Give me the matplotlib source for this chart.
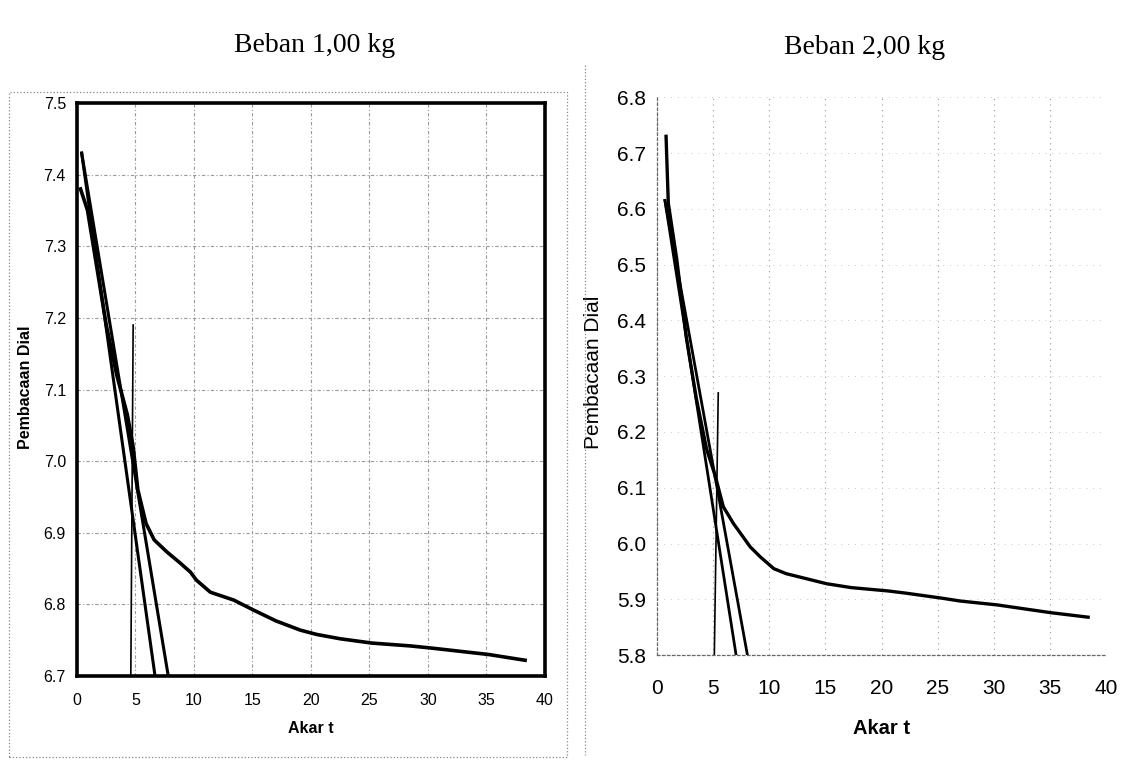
import matplotlib
matplotlib.use('Agg')
import matplotlib.pyplot as plt
from matplotlib.patches import Rectangle
from matplotlib.lines import Line2D

plt.rcParams['font.family'] = ['Liberation Sans', 'DejaVu Sans']

# Beban 1,00 kg
akar_t_1 = [0.3, 0.9, 1.7, 2.5, 3.4, 4.3, 4.8, 5.2, 5.9, 6.6, 7.7, 8.8, 9.7, 10.2, 11.4,
            13.4, 15.1, 17.0, 19.1, 20.5, 22.5, 25.2, 28.5, 30.3, 35.2, 38.3]
dial_1 = [7.38, 7.35, 7.27, 7.19, 7.12, 7.065, 7.02, 6.96, 6.913, 6.89, 6.873, 6.858, 6.845,
          6.834, 6.817, 6.806, 6.792, 6.777, 6.764, 6.758, 6.752, 6.746, 6.742, 6.739, 6.730, 6.722]
garis_a_x_1 = [0.4, 6.67]
garis_a_y_1 = [7.43, 6.70]
garis_b_x_1 = [0.4, 7.8]
garis_b_y_1 = [7.43, 6.70]
t90_x_1 = [4.6, 4.8]
t90_y_1 = [6.70, 7.19]

# Beban 2,00 kg
akar_t_2 = [0.8, 1.0, 1.75, 2.6, 3.5, 4.4, 5.2, 5.9, 6.8, 8.3, 9.2, 10.4, 11.5, 13.3, 15.1,
            17.3, 20.6, 22.2, 25.4, 27.0, 30.3, 35.1, 38.4]
dial_2 = [6.73, 6.61, 6.51, 6.37, 6.26, 6.17, 6.12, 6.066, 6.036, 5.994, 5.976, 5.955, 5.946,
          5.937, 5.928, 5.921, 5.915, 5.911, 5.902, 5.897, 5.890, 5.876, 5.868]
garis_a_x_2 = [0.7, 7.04]
garis_a_y_2 = [6.615, 5.80]
garis_b_x_2 = [0.7, 8.05]
garis_b_y_2 = [6.615, 5.80]
t90_x_2 = [5.1, 5.45]
t90_y_2 = [5.80, 6.27]

x_ticks = [0, 5, 10, 15, 20, 25, 30, 35, 40]
y_ticks_1 = [6.7, 6.8, 6.9, 7.0, 7.1, 7.2, 7.3, 7.4, 7.5]
y_ticks_2 = [5.8, 5.9, 6.0, 6.1, 6.2, 6.3, 6.4, 6.5, 6.6, 6.7, 6.8]

fig = plt.figure(figsize=(11.29, 7.6), dpi=100)

# chart area borders (dotted, like the scanned Excel frames)
fig.add_artist(Rectangle((9 / 1129, 1 - 757 / 760), 558 / 1129, 665 / 760,
                         transform=fig.transFigure, fill=False, ls=':', ec='#888888', lw=0.9))
fig.add_artist(Line2D([585 / 1129, 585 / 1129], [1 - 65 / 760, 1 - 755 / 760],
                      transform=fig.transFigure, ls=':', color='#888888', lw=0.9))

fig.text(0.279, 0.94, 'Beban 1,00 kg', family='Liberation Serif', fontsize=20,
         ha='center', va='center')
fig.text(0.766, 0.937, 'Beban 2,00 kg', family='Liberation Serif', fontsize=20,
         ha='center', va='center')

# left chart
ax1 = fig.add_axes([0.0682, 0.1105, 0.4145, 0.754])
ax1.set_xlim(0, 40)
ax1.set_ylim(6.7, 7.5)
ax1.set_xticks(x_ticks)
ax1.set_yticks(y_ticks_1)
ax1.set_yticklabels([f'{v:.1f}' for v in y_ticks_1])
ax1.grid(True, color='#999999', lw=0.8, ls=(0, (3, 2, 1, 2)))
ax1.set_axisbelow(True)
for s in ax1.spines.values():
    s.set_linewidth(2.6)
ax1.tick_params(axis='both', length=0, labelsize=11.5)
ax1.tick_params(axis='x', pad=12)
ax1.tick_params(axis='y', pad=8)
ax1.plot(akar_t_1, dial_1, color='black', lw=2.6, solid_joinstyle='round')
ax1.plot(garis_a_x_1, garis_a_y_1, color='black', lw=2.2)
ax1.plot(garis_b_x_1, garis_b_y_1, color='black', lw=2.2)
ax1.plot(t90_x_1, t90_y_1, color='black', lw=1.2)
ax1.set_xlabel('Akar t', fontsize=11.5, fontweight='bold')
ax1.xaxis.set_label_coords(0.5, -0.0785)
ax1.set_ylabel('Pembacaan Dial', fontsize=11.5, fontweight='bold')
ax1.yaxis.set_label_coords(-0.094, 0.504)

# right chart
ax2 = fig.add_axes([0.582, 0.138, 0.3977, 0.734])
ax2.set_xlim(0, 40)
ax2.set_ylim(5.8, 6.8)
ax2.set_xticks(x_ticks)
ax2.set_yticks(y_ticks_2)
ax2.set_yticklabels([f'{v:.1f}' for v in y_ticks_2])
ax2.grid(True, axis='x', color='#999999', lw=0.8, ls=(0, (1, 4)))
ax2.grid(True, axis='y', color='#c8c8c8', lw=0.7, ls=(0, (1, 6)))
ax2.set_axisbelow(True)
ax2.spines['top'].set_visible(False)
ax2.spines['right'].set_visible(False)
for side in ['left', 'bottom']:
    ax2.spines[side].set_linestyle((0, (2, 2)))
    ax2.spines[side].set_color('#666666')
    ax2.spines[side].set_linewidth(0.9)
ax2.tick_params(axis='both', length=0, labelsize=15)
ax2.tick_params(axis='x', pad=17)
ax2.tick_params(axis='y', pad=8)
ax2.plot(akar_t_2, dial_2, color='black', lw=2.4, solid_joinstyle='round')
ax2.plot(garis_a_x_2, garis_a_y_2, color='black', lw=2.0)
ax2.plot(garis_b_x_2, garis_b_y_2, color='black', lw=2.0)
ax2.plot(t90_x_2, t90_y_2, color='black', lw=1.2)
ax2.set_xlabel('Akar t', fontsize=14.5, fontweight='bold')
ax2.xaxis.set_label_coords(0.5, -0.115)
ax2.set_ylabel('Pembacaan Dial', fontsize=15)
ax2.yaxis.set_label_coords(-0.12, 0.507)

fig.savefig('out.png', dpi=100)
